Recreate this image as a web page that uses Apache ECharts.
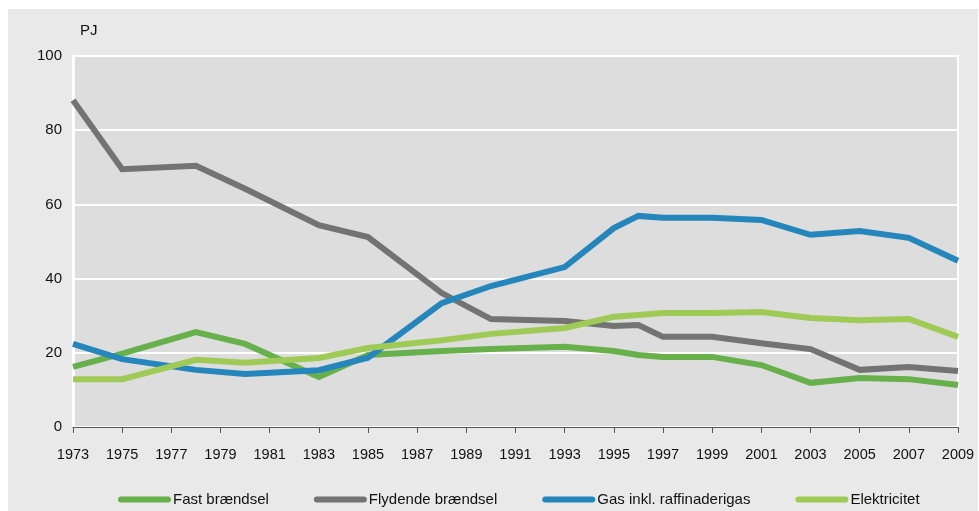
<!DOCTYPE html>
<html>
<head>
<meta charset="utf-8">
<script src="https://cdn.jsdelivr.net/npm/echarts@6/dist/echarts.min.js"></script>
<style>
  html, body { margin: 0; padding: 0; background: #ffffff; }
  #chart { width: 979px; height: 511px; }
</style>
</head>
<body>
<div id="chart"></div>
<script>
// Årstal (kategorier) og de år der har målepunkter
var years = [];
for (var y = 1973; y <= 2009; y++) years.push(String(y));
var dataYears = [1973, 1975, 1978, 1980, 1983, 1985, 1988, 1990, 1993, 1995, 1996, 1997, 1999, 2001, 2003, 2005, 2007, 2009];

// Værdier i PJ
var fastBraendsel = [16.2, 19.8, 25.6, 22.4, 13.5, 19.4, 20.5, 21.0, 21.6, 20.5, 19.4, 18.9, 18.9, 16.7, 11.9, 13.2, 12.9, 11.3];
var flydendeBraendsel = [88.1, 69.5, 70.4, 64.2, 54.4, 51.2, 36.1, 29.1, 28.6, 27.2, 27.5, 24.3, 24.3, 22.6, 21.0, 15.4, 16.2, 15.1];
var gas = [22.4, 18.3, 15.4, 14.3, 15.3, 18.7, 33.4, 38.0, 43.1, 53.6, 56.9, 56.4, 56.4, 55.8, 51.8, 52.8, 51.0, 44.8];
var elektricitet = [12.9, 12.9, 18.1, 17.3, 18.6, 21.3, 23.4, 25.1, 26.7, 29.7, 30.2, 30.7, 30.7, 31.0, 29.4, 28.8, 29.1, 24.3];

var seriesNames = ['Fast brændsel', 'Flydende brændsel', 'Gas inkl. raffinaderigas', 'Elektricitet'];
var seriesColors = ['#67b04c', '#737373', '#2586bb', '#9fca55'];

// Læg værdierne ud på hele årsaksen (tomme år = null)
function toYearData(values) {
  var out = years.map(function () { return null; });
  dataYears.forEach(function (yr, i) { out[yr - 1973] = values[i]; });
  return out;
}

var chart = echarts.init(document.getElementById('chart'));

var allValues = [fastBraendsel, flydendeBraendsel, gas, elektricitet];
var series = allValues.map(function (vals, i) {
  return {
    name: seriesNames[i],
    type: 'line',
    data: toYearData(vals),
    connectNulls: true,
    showSymbol: false,
    symbol: 'none',
    animation: false,
    lineStyle: { width: 6, color: seriesColors[i], join: 'miter' },
    itemStyle: { color: seriesColors[i] }
  };
});

var option = {
  animation: false,
  textStyle: { fontFamily: 'Liberation Sans, Arial, sans-serif' },
  graphic: [{
    type: 'rect',
    z: -100,
    shape: { x: 8, y: 9, width: 970, height: 502 },
    style: { fill: '#e9e9e9' }
  }],
  title: {
    text: 'PJ',
    left: 75,
    top: 18,
    textStyle: { fontSize: 15, fontWeight: 'normal', color: '#111' }
  },
  legend: {
    left: 113,
    top: 487,
    itemGap: 45,
    itemWidth: 53,
    itemHeight: 6,
    icon: 'path://M3,0 L50,0 A3,3 0 0 1 50,6 L3,6 A3,3 0 0 1 3,0 Z',
    textStyle: { fontSize: 15, color: '#111', padding: [2, 0, 0, -3] },
    data: seriesNames
  },
  grid: {
    left: 73,
    right: 21,
    top: 56,
    bottom: 84,
    show: true,
    backgroundColor: '#dddddd',
    borderColor: '#ffffff',
    borderWidth: 2
  },
  xAxis: {
    type: 'category',
    data: years,
    boundaryGap: false,
    axisLine: { lineStyle: { color: '#555555', width: 1 } },
    axisTick: { interval: 1, length: 6, lineStyle: { color: '#555555' } },
    axisLabel: { interval: 1, margin: 20, fontSize: 14.5, color: '#111' },
    splitLine: { show: false }
  },
  yAxis: {
    type: 'value',
    min: 0,
    max: 100,
    interval: 20,
    axisLine: { show: true, lineStyle: { color: '#ffffff', width: 3 } },
    axisTick: { show: false },
    axisLabel: { margin: 11, fontSize: 15, color: '#111' },
    splitLine: { lineStyle: { color: '#ffffff', width: 2 } }
  },
  series: series
};

chart.setOption(option);
</script>
</body>
</html>
